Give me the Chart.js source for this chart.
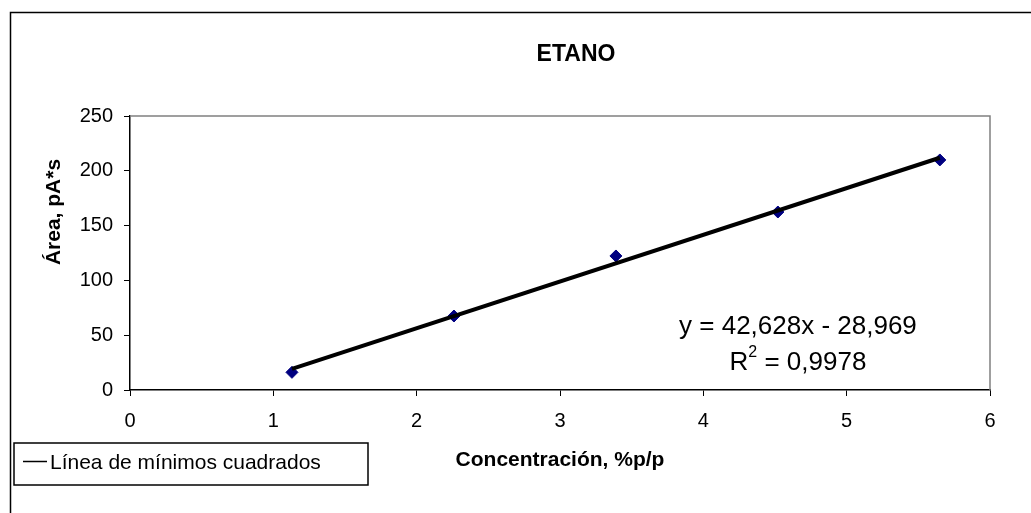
<!DOCTYPE html>
<html><head><meta charset="utf-8">
<script src="https://cdn.jsdelivr.net/npm/chart.js@4/dist/chart.umd.min.js"></script>
<style>html,body{margin:0;padding:0;background:#fff;overflow:hidden}#wrap{width:1031px;height:513px;}</style>
</head><body><div id="wrap"><canvas id="c" width="1031" height="513"></canvas></div>
<script>
const concentracion = [1.13, 2.26, 3.39, 4.52, 5.65];
const area = [16.1, 67.5, 122.3, 162.4, 209.9];
const trendX = [1.13, 5.65];
const trendY = [19.2, 211.9];
const xTicks = [0, 1, 2, 3, 4, 5, 6];
const yTicks = [0, 50, 100, 150, 200, 250];
const chartTitle = 'ETANO';
const xTitle = 'Concentración, %p/p';
const yTitle = 'Área, pA*s';
const trendLabel = 'Línea de mínimos cuadrados';
const equationText = 'y = 42,628x - 28,969';
const r2Value = '0,9978';

const FONT = '"Liberation Sans", Arial, sans-serif';

const deco = {
  id: 'deco',
  afterDraw(chart) {
    const ctx = chart.ctx;
    const ca = chart.chartArea;
    const xs = chart.scales.x, ys = chart.scales.y;
    ctx.save();
    // outer chart border (right/bottom lie outside the view)
    ctx.strokeStyle = '#000';
    ctx.lineWidth = 1.5;
    ctx.strokeRect(10.5, 12.5, 1200, 700);
    // plot area border top/right
    ctx.strokeStyle = '#808080';
    ctx.lineWidth = 1.5;
    ctx.beginPath();
    ctx.moveTo(ca.left, ca.top);
    ctx.lineTo(ca.right, ca.top);
    ctx.lineTo(ca.right, ca.bottom);
    ctx.stroke();
    // title
    ctx.fillStyle = '#000';
    ctx.font = 'bold 23px ' + FONT;
    ctx.textAlign = 'center';
    ctx.textBaseline = 'middle';
    ctx.fillText(chartTitle, 576, 55);
    // y title
    ctx.save();
    ctx.translate(54, 212);
    ctx.rotate(-Math.PI / 2);
    ctx.font = 'bold 21px ' + FONT;
    ctx.fillText(yTitle, 0, 0);
    ctx.restore();
    // equation
    const ex = xs.getPixelForValue(4.66);
    ctx.font = '26px ' + FONT;
    ctx.textAlign = 'center';
    ctx.fillText(equationText, ex, ys.getPixelForValue(58));
    // R^2
    const ry = ys.getPixelForValue(25);
    ctx.font = '26px ' + FONT;
    const wR = ctx.measureText('R').width;
    const wRest = ctx.measureText(' = ' + r2Value).width;
    ctx.font = '16px ' + FONT;
    const w2 = ctx.measureText('2').width;
    const total = wR + w2 + wRest;
    let sx = ex - total / 2;
    ctx.textAlign = 'left';
    ctx.font = '26px ' + FONT;
    ctx.fillText('R', sx, ry);
    ctx.font = '16px ' + FONT;
    ctx.fillText('2', sx + wR, ry - 10);
    ctx.font = '26px ' + FONT;
    ctx.fillText(' = ' + r2Value, sx + wR + w2, ry);
    // legend box
    ctx.strokeStyle = '#000';
    ctx.lineWidth = 1.5;
    ctx.strokeRect(14, 443, 354, 42);
    ctx.lineWidth = 1.5;
    ctx.beginPath();
    ctx.moveTo(23, 461.5);
    ctx.lineTo(47, 461.5);
    ctx.stroke();
    ctx.font = '21px ' + FONT;
    ctx.textAlign = 'left';
    ctx.textBaseline = 'middle';
    ctx.fillText(chart.data.datasets[1].label, 50, 463);
    ctx.restore();
  }
};

new Chart(document.getElementById('c'), {
  type: 'scatter',
  data: {
    datasets: [
      {
        label: 'Área',
        data: concentracion.map((x, i) => ({ x: x, y: area[i] })),
        pointStyle: 'rectRot',
        pointRadius: 6,
        pointHoverRadius: 6,
        backgroundColor: '#000080',
        borderColor: '#000080',
        borderWidth: 1,
        order: 2
      },
      {
        label: trendLabel,
        type: 'line',
        data: trendX.map((x, i) => ({ x: x, y: trendY[i] })),
        borderColor: '#000',
        borderWidth: 4,
        pointRadius: 0,
        fill: false,
        order: 1
      }
    ]
  },
  options: {
    responsive: false,
    animation: false,
    devicePixelRatio: 1,
    layout: { padding: { top: 116, right: 41, left: 0, bottom: 0 } },
    plugins: {
      legend: { display: false },
      title: { display: false },
      tooltip: { enabled: false }
    },
    scales: {
      x: {
        type: 'linear',
        min: 0, max: 6,
        afterFit(s) { s.height = 123; },
        afterBuildTicks(s) { s.ticks = xTicks.map(v => ({ value: v })); },
        ticks: { font: { family: FONT, size: 20 }, color: '#000', padding: 13 },
        grid: { drawOnChartArea: false, drawTicks: true, tickLength: 6, color: '#000', lineWidth: 1 },
        border: { display: true, color: '#000', width: 1.5 },
        title: { display: true, text: xTitle, font: { family: FONT, size: 21, weight: 'bold' }, color: '#000', padding: { top: 0, bottom: 40 } }
      },
      y: {
        type: 'linear',
        min: 0, max: 250,
        afterFit(s) { s.width = 130; },
        afterBuildTicks(s) { s.ticks = yTicks.map(v => ({ value: v })); },
        ticks: { font: { family: FONT, size: 20 }, color: '#000', padding: 11 },
        grid: { drawOnChartArea: false, drawTicks: true, tickLength: 6, color: '#000', lineWidth: 1 },
        border: { display: true, color: '#000', width: 1.5 }
      }
    }
  },
  plugins: [deco]
});
</script>
</body></html>
